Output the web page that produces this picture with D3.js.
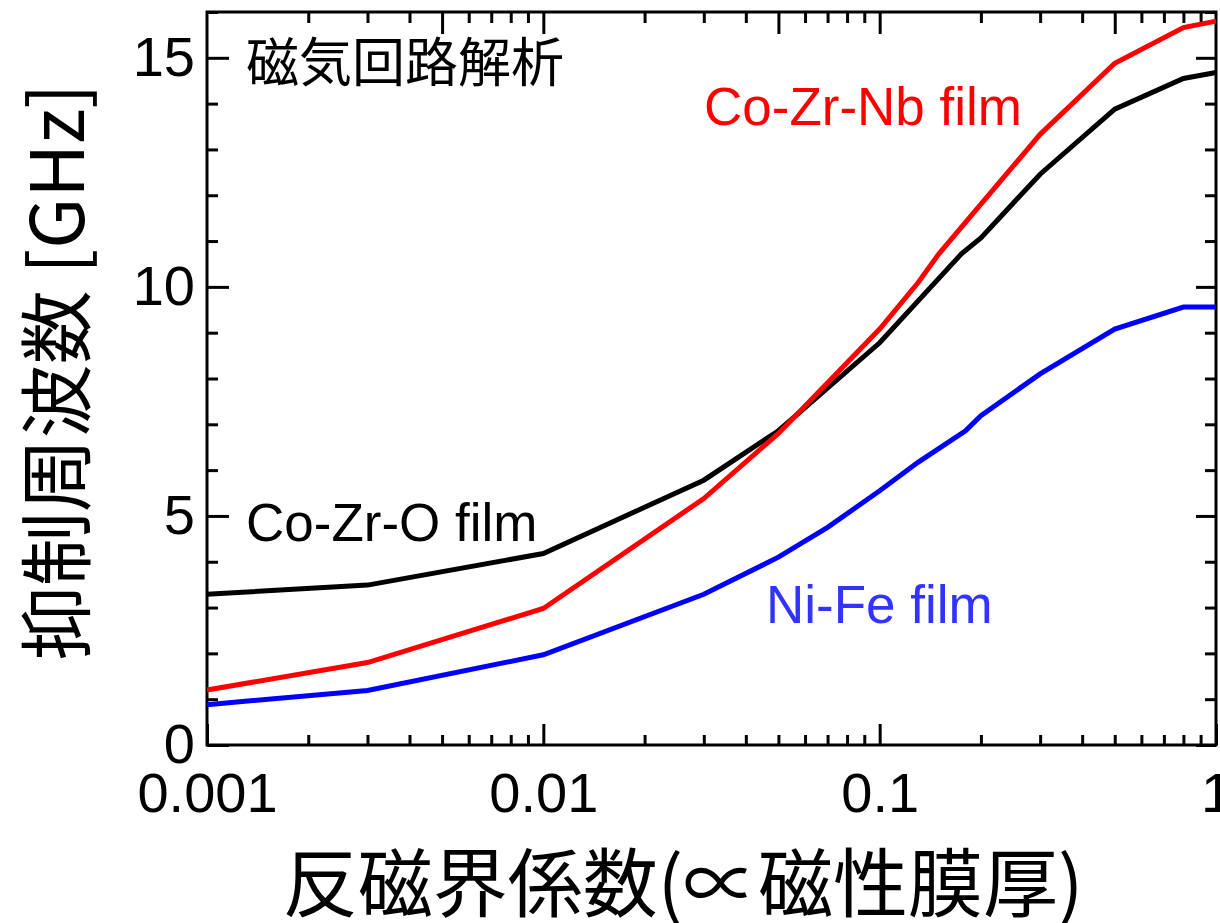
<!DOCTYPE html>
<html>
<head>
<meta charset="utf-8">
<script src="https://cdn.jsdelivr.net/npm/d3@7"></script>
<style>
  body { margin: 0; background: #fff; }
  svg text { font-family: "Liberation Sans", Arial, sans-serif; }
  .jp { font-family: "Noto Sans CJK JP", sans-serif; }
</style>
</head>
<body>
<div class="canvas"></div>
<script>
// series values
const cozroX = [0.001, 0.003, 0.01, 0.03, 0.05, 0.1, 0.175, 0.2, 0.3, 0.5, 0.8, 1];
const cozroY = [3.29, 3.49, 4.18, 5.78, 6.86, 8.78, 10.72, 11.07, 12.46, 13.88, 14.55, 14.68];

const cozrnbX = [0.001, 0.003, 0.01, 0.03, 0.05, 0.1, 0.13, 0.15, 0.3, 0.5, 0.8, 1];
const cozrnbY = [1.2, 1.8, 2.98, 5.38, 6.8, 9.08, 10.09, 10.72, 13.33, 14.88, 15.66, 15.8];

const nifeX = [0.001, 0.003, 0.01, 0.03, 0.05, 0.07, 0.1, 0.13, 0.18, 0.2, 0.3, 0.5, 0.8, 1];
const nifeY = [0.88, 1.19, 1.97, 3.29, 4.1, 4.75, 5.55, 6.17, 6.86, 7.19, 8.1, 9.08, 9.56, 9.56];

const xTickLabels = ["0.001", "0.01", "0.1", "1"];
const xTicks = [0.001, 0.01, 0.1, 1];
const yTicks = [0, 5, 10, 15];

const width = 1220, height = 923;
const margin = { top: 12, right: 4, bottom: 178, left: 207 };

const svg = d3.select(".canvas").append("svg")
  .attr("width", width)
  .attr("height", height);

const x = d3.scaleLog().domain([0.001, 1]).range([margin.left, width - margin.right]);
const y = d3.scaleLinear().domain([0, 16]).range([height - margin.bottom, margin.top]);

// minor tick values
let xMinor = [];
[0.001, 0.01, 0.1].forEach((d) => {
  for (let k = 2; k <= 9; k++) xMinor.push(d * k);
});
const yMinor = d3.range(0, 17).filter((v) => v % 5 !== 0);

const axisStyle = (g) => {
  g.select(".domain").remove();
  g.selectAll("line").attr("stroke", "#000").attr("stroke-width", 3);
};

// bottom
svg.append("g")
  .attr("transform", `translate(0,${y(0)})`)
  .call(d3.axisBottom(x).tickValues(xMinor).tickSize(-10).tickFormat(""))
  .call(axisStyle);
svg.append("g")
  .attr("transform", `translate(0,${y(0)})`)
  .call(d3.axisBottom(x).tickValues(xTicks).tickSize(-21).tickPadding(27)
    .tickFormat((d, i) => xTickLabels[i]))
  .call(axisStyle)
  .call((g) => g.selectAll("text").attr("font-size", 56).attr("fill", "#000")
    .style("font-family", "Liberation Sans, Arial, sans-serif"));

// top
const topLong = [0.005, 0.01, 0.05, 0.1, 0.5];
svg.append("g")
  .attr("transform", `translate(0,${y(16)})`)
  .call(d3.axisTop(x).tickValues(xMinor.filter((d) => !topLong.includes(d))).tickSize(-11).tickFormat(""))
  .call(axisStyle);
svg.append("g")
  .attr("transform", `translate(0,${y(16)})`)
  .call(d3.axisTop(x).tickValues(topLong).tickSize(-22).tickFormat(""))
  .call(axisStyle);

// left
svg.append("g")
  .attr("transform", `translate(${x(0.001)},0)`)
  .call(d3.axisLeft(y).tickValues(yMinor).tickSize(-11).tickFormat(""))
  .call(axisStyle);
svg.append("g")
  .attr("transform", `translate(${x(0.001)},0)`)
  .call(d3.axisLeft(y).tickValues(yTicks).tickSize(-22).tickPadding(12).tickFormat(d3.format("d")))
  .call(axisStyle)
  .call((g) => g.selectAll("text").attr("font-size", 56).attr("fill", "#000")
    .style("font-family", "Liberation Sans, Arial, sans-serif"));

// right
svg.append("g")
  .attr("transform", `translate(${x(1)},0)`)
  .call(d3.axisRight(y).tickValues(yMinor).tickSize(-11).tickFormat(""))
  .call(axisStyle);
svg.append("g")
  .attr("transform", `translate(${x(1)},0)`)
  .call(d3.axisRight(y).tickValues(yTicks).tickSize(-20).tickFormat(""))
  .call(axisStyle);

// frame
svg.append("rect")
  .attr("x", x(0.001))
  .attr("y", y(16))
  .attr("width", x(1) - x(0.001))
  .attr("height", y(0) - y(16))
  .attr("fill", "none")
  .attr("stroke", "#000")
  .attr("stroke-width", 3);

// lines
const line = d3.line().x((d) => x(d[0])).y((d) => y(d[1]));
const series = [
  { xs: cozroX, ys: cozroY, color: "#000000" },
  { xs: nifeX, ys: nifeY, color: "#0000ff" },
  { xs: cozrnbX, ys: cozrnbY, color: "#ff0000" },
];
series.forEach((s) => {
  svg.append("path")
    .datum(s.xs.map((v, i) => [v, s.ys[i]]))
    .attr("d", line)
    .attr("fill", "none")
    .attr("stroke", s.color)
    .attr("stroke-width", 5)
    .attr("stroke-linejoin", "miter");
});

// series labels
svg.append("text").attr("x", 704).attr("y", 125).attr("font-size", 53)
  .attr("fill", "#ff0000").text("Co-Zr-Nb film");
svg.append("text").attr("x", 246).attr("y", 541).attr("font-size", 53)
  .attr("fill", "#000").text("Co-Zr-O film");
svg.append("text").attr("x", 766).attr("y", 623).attr("font-size", 53)
  .attr("fill", "#3333ff").text("Ni-Fe film");

// note
svg.append("text").attr("class", "jp").attr("x", 246).attr("y", 82)
  .attr("font-size", 53).attr("fill", "#000").text("磁気回路解析");

// axis titles
svg.append("text").attr("class", "jp")
  .attr("x", 683).attr("y", 911)
  .attr("text-anchor", "middle")
  .attr("font-size", 75)
  .attr("fill", "#000")
  .text("反磁界係数(∝磁性膜厚)");

svg.append("text").attr("class", "jp")
  .attr("transform", "translate(84,372) rotate(-90)")
  .attr("text-anchor", "middle")
  .attr("font-size", 74)
  .attr("fill", "#000")
  .text("抑制周波数 [GHz]");
</script>
</body>
</html>
